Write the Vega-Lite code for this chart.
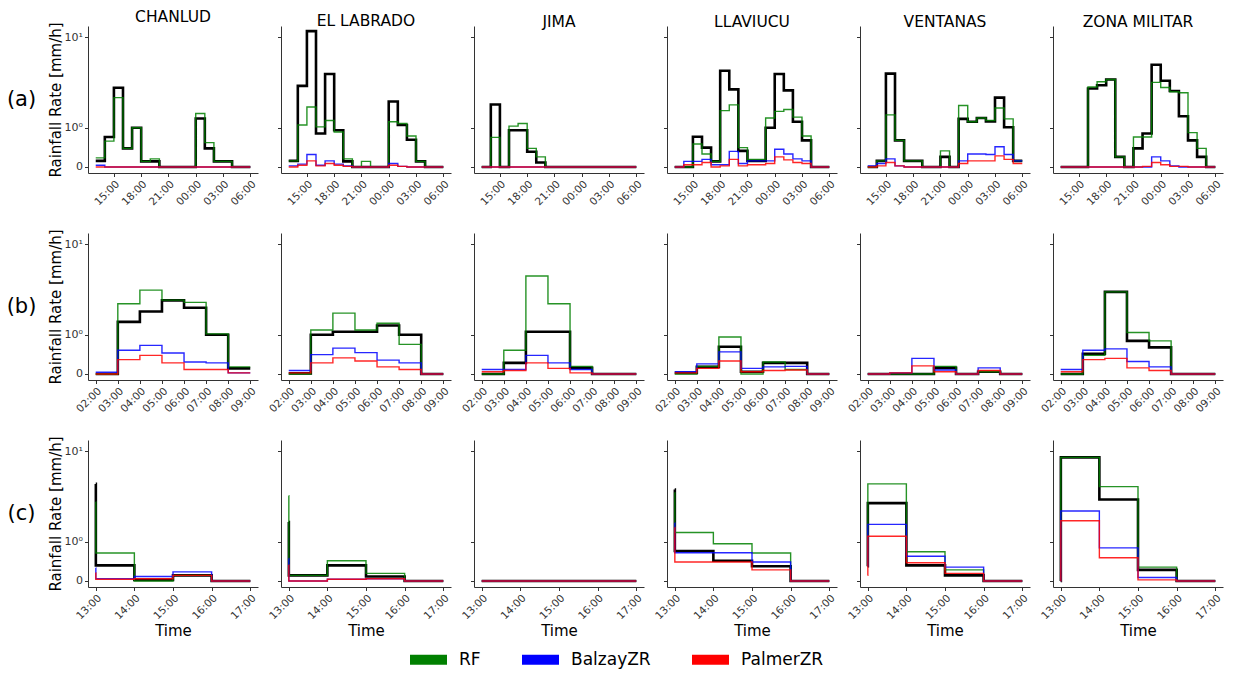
{
"$schema":"https://vega.github.io/schema/vega-lite/v6.json",
"padding":{"left":5,"top":10,"right":5,"bottom":2},
"datasets":{
"a":[
{"s":"CHANLUD","h":13,"obs":0.11,"RF":0.17,"BalzayZR":0.03,"PalmerZR":0},
{"s":"CHANLUD","h":14,"obs":0.69,"RF":0.57,"BalzayZR":0,"PalmerZR":0},
{"s":"CHANLUD","h":15,"obs":3.2,"RF":2.49,"BalzayZR":0,"PalmerZR":0},
{"s":"CHANLUD","h":16,"obs":0.38,"RF":0.38,"BalzayZR":0,"PalmerZR":0},
{"s":"CHANLUD","h":17,"obs":1,"RF":1,"BalzayZR":0,"PalmerZR":0},
{"s":"CHANLUD","h":18,"obs":0.1,"RF":0.1,"BalzayZR":0,"PalmerZR":0},
{"s":"CHANLUD","h":19,"obs":0.1,"RF":0.15,"BalzayZR":0,"PalmerZR":0},
{"s":"CHANLUD","h":20,"obs":0,"RF":0,"BalzayZR":0,"PalmerZR":0},
{"s":"CHANLUD","h":21,"obs":0,"RF":0,"BalzayZR":0,"PalmerZR":0},
{"s":"CHANLUD","h":22,"obs":0,"RF":0,"BalzayZR":0,"PalmerZR":0},
{"s":"CHANLUD","h":23,"obs":0,"RF":0,"BalzayZR":0,"PalmerZR":0},
{"s":"CHANLUD","h":24,"obs":1.37,"RF":1.6,"BalzayZR":0,"PalmerZR":0},
{"s":"CHANLUD","h":25,"obs":0.38,"RF":0.53,"BalzayZR":0,"PalmerZR":0},
{"s":"CHANLUD","h":26,"obs":0.1,"RF":0.1,"BalzayZR":0,"PalmerZR":0},
{"s":"CHANLUD","h":27,"obs":0.1,"RF":0.1,"BalzayZR":0,"PalmerZR":0},
{"s":"CHANLUD","h":28,"obs":0,"RF":0,"BalzayZR":0,"PalmerZR":0},
{"s":"CHANLUD","h":29,"obs":0,"RF":0,"BalzayZR":0,"PalmerZR":0},
{"s":"CHANLUD","h":30,"obs":0,"RF":0,"BalzayZR":0,"PalmerZR":0},
{"s":"EL LABRADO","h":13,"obs":0.11,"RF":0.11,"BalzayZR":0.02,"PalmerZR":0},
{"s":"EL LABRADO","h":14,"obs":3.36,"RF":1.1,"BalzayZR":0.05,"PalmerZR":0.03},
{"s":"EL LABRADO","h":15,"obs":11.4,"RF":1.93,"BalzayZR":0.24,"PalmerZR":0.11},
{"s":"EL LABRADO","h":16,"obs":0.8,"RF":1.03,"BalzayZR":0.03,"PalmerZR":0.02},
{"s":"EL LABRADO","h":17,"obs":4.45,"RF":1.28,"BalzayZR":0.11,"PalmerZR":0.06},
{"s":"EL LABRADO","h":18,"obs":0.91,"RF":0.85,"BalzayZR":0.05,"PalmerZR":0.03},
{"s":"EL LABRADO","h":19,"obs":0.1,"RF":0.15,"BalzayZR":0.02,"PalmerZR":0.01},
{"s":"EL LABRADO","h":20,"obs":0,"RF":0,"BalzayZR":0,"PalmerZR":0},
{"s":"EL LABRADO","h":21,"obs":0,"RF":0.1,"BalzayZR":0,"PalmerZR":0},
{"s":"EL LABRADO","h":22,"obs":0,"RF":0,"BalzayZR":0,"PalmerZR":0},
{"s":"EL LABRADO","h":23,"obs":0,"RF":0,"BalzayZR":0,"PalmerZR":0},
{"s":"EL LABRADO","h":24,"obs":2.25,"RF":1.23,"BalzayZR":0.06,"PalmerZR":0.03},
{"s":"EL LABRADO","h":25,"obs":1.1,"RF":1.16,"BalzayZR":0.01,"PalmerZR":0.01},
{"s":"EL LABRADO","h":26,"obs":0.61,"RF":0.72,"BalzayZR":0,"PalmerZR":0},
{"s":"EL LABRADO","h":27,"obs":0.1,"RF":0.1,"BalzayZR":0,"PalmerZR":0},
{"s":"EL LABRADO","h":28,"obs":0,"RF":0,"BalzayZR":0,"PalmerZR":0},
{"s":"EL LABRADO","h":29,"obs":0,"RF":0,"BalzayZR":0,"PalmerZR":0},
{"s":"EL LABRADO","h":30,"obs":0,"RF":0,"BalzayZR":0,"PalmerZR":0},
{"s":"JIMA","h":13,"obs":0,"RF":0,"BalzayZR":0,"PalmerZR":0},
{"s":"JIMA","h":14,"obs":2.07,"RF":0.68,"BalzayZR":0,"PalmerZR":0},
{"s":"JIMA","h":15,"obs":0,"RF":0,"BalzayZR":0,"PalmerZR":0},
{"s":"JIMA","h":16,"obs":0.91,"RF":1.06,"BalzayZR":0,"PalmerZR":0},
{"s":"JIMA","h":17,"obs":0.91,"RF":1.16,"BalzayZR":0,"PalmerZR":0},
{"s":"JIMA","h":18,"obs":0.3,"RF":0.38,"BalzayZR":0,"PalmerZR":0},
{"s":"JIMA","h":19,"obs":0.08,"RF":0.19,"BalzayZR":0,"PalmerZR":0},
{"s":"JIMA","h":20,"obs":0,"RF":0,"BalzayZR":0,"PalmerZR":0},
{"s":"JIMA","h":21,"obs":0,"RF":0,"BalzayZR":0,"PalmerZR":0},
{"s":"JIMA","h":22,"obs":0,"RF":0,"BalzayZR":0,"PalmerZR":0},
{"s":"JIMA","h":23,"obs":0,"RF":0,"BalzayZR":0,"PalmerZR":0},
{"s":"JIMA","h":24,"obs":0,"RF":0,"BalzayZR":0,"PalmerZR":0},
{"s":"JIMA","h":25,"obs":0,"RF":0,"BalzayZR":0,"PalmerZR":0},
{"s":"JIMA","h":26,"obs":0,"RF":0,"BalzayZR":0,"PalmerZR":0},
{"s":"JIMA","h":27,"obs":0,"RF":0,"BalzayZR":0,"PalmerZR":0},
{"s":"JIMA","h":28,"obs":0,"RF":0,"BalzayZR":0,"PalmerZR":0},
{"s":"JIMA","h":29,"obs":0,"RF":0,"BalzayZR":0,"PalmerZR":0},
{"s":"JIMA","h":30,"obs":0,"RF":0,"BalzayZR":0,"PalmerZR":0},
{"s":"LLAVIUCU","h":13,"obs":0,"RF":0,"BalzayZR":0,"PalmerZR":0},
{"s":"LLAVIUCU","h":14,"obs":0,"RF":0,"BalzayZR":0.1,"PalmerZR":0.04},
{"s":"LLAVIUCU","h":15,"obs":0.7,"RF":0.49,"BalzayZR":0.1,"PalmerZR":0.04},
{"s":"LLAVIUCU","h":16,"obs":0.4,"RF":0.25,"BalzayZR":0.14,"PalmerZR":0.08},
{"s":"LLAVIUCU","h":17,"obs":0.1,"RF":0.1,"BalzayZR":0.04,"PalmerZR":0},
{"s":"LLAVIUCU","h":18,"obs":4.8,"RF":1.74,"BalzayZR":0.04,"PalmerZR":0.02},
{"s":"LLAVIUCU","h":19,"obs":3.08,"RF":2.05,"BalzayZR":0.31,"PalmerZR":0.14},
{"s":"LLAVIUCU","h":20,"obs":0.32,"RF":0.4,"BalzayZR":0.06,"PalmerZR":0.02},
{"s":"LLAVIUCU","h":21,"obs":0.11,"RF":0.14,"BalzayZR":0.11,"PalmerZR":0.04},
{"s":"LLAVIUCU","h":22,"obs":0.11,"RF":0.14,"BalzayZR":0.11,"PalmerZR":0.04},
{"s":"LLAVIUCU","h":23,"obs":1,"RF":1.39,"BalzayZR":0.11,"PalmerZR":0.06},
{"s":"LLAVIUCU","h":24,"obs":4.45,"RF":1.7,"BalzayZR":0.36,"PalmerZR":0.19},
{"s":"LLAVIUCU","h":25,"obs":3,"RF":1.8,"BalzayZR":0.25,"PalmerZR":0.13},
{"s":"LLAVIUCU","h":26,"obs":1.23,"RF":1.43,"BalzayZR":0.15,"PalmerZR":0.08},
{"s":"LLAVIUCU","h":27,"obs":0.59,"RF":0.72,"BalzayZR":0.11,"PalmerZR":0.06},
{"s":"LLAVIUCU","h":28,"obs":0,"RF":0,"BalzayZR":0,"PalmerZR":0},
{"s":"LLAVIUCU","h":29,"obs":0,"RF":0,"BalzayZR":0,"PalmerZR":0},
{"s":"LLAVIUCU","h":30,"obs":0,"RF":0,"BalzayZR":0,"PalmerZR":0},
{"s":"VENTANAS","h":13,"obs":0,"RF":0,"BalzayZR":0.02,"PalmerZR":0},
{"s":"VENTANAS","h":14,"obs":0.11,"RF":0.11,"BalzayZR":0.06,"PalmerZR":0.02},
{"s":"VENTANAS","h":15,"obs":4.5,"RF":1.53,"BalzayZR":0.15,"PalmerZR":0.08},
{"s":"VENTANAS","h":16,"obs":0.59,"RF":0.59,"BalzayZR":0.02,"PalmerZR":0.02},
{"s":"VENTANAS","h":17,"obs":0.11,"RF":0.11,"BalzayZR":0,"PalmerZR":0},
{"s":"VENTANAS","h":18,"obs":0.11,"RF":0.11,"BalzayZR":0,"PalmerZR":0},
{"s":"VENTANAS","h":19,"obs":0,"RF":0,"BalzayZR":0,"PalmerZR":0},
{"s":"VENTANAS","h":20,"obs":0,"RF":0,"BalzayZR":0,"PalmerZR":0},
{"s":"VENTANAS","h":21,"obs":0.19,"RF":0.32,"BalzayZR":0,"PalmerZR":0},
{"s":"VENTANAS","h":22,"obs":0,"RF":0,"BalzayZR":0,"PalmerZR":0},
{"s":"VENTANAS","h":23,"obs":1.35,"RF":2.01,"BalzayZR":0.11,"PalmerZR":0.06},
{"s":"VENTANAS","h":24,"obs":1.23,"RF":1.23,"BalzayZR":0.25,"PalmerZR":0.11},
{"s":"VENTANAS","h":25,"obs":1.39,"RF":1.39,"BalzayZR":0.25,"PalmerZR":0.11},
{"s":"VENTANAS","h":26,"obs":1.24,"RF":1.28,"BalzayZR":0.24,"PalmerZR":0.11},
{"s":"VENTANAS","h":27,"obs":2.49,"RF":1.88,"BalzayZR":0.42,"PalmerZR":0.21},
{"s":"VENTANAS","h":28,"obs":1.02,"RF":1.35,"BalzayZR":0.24,"PalmerZR":0.14},
{"s":"VENTANAS","h":29,"obs":0.11,"RF":0.11,"BalzayZR":0.11,"PalmerZR":0.06},
{"s":"VENTANAS","h":30,"obs":0.11,"RF":0.11,"BalzayZR":0.11,"PalmerZR":0.06},
{"s":"ZONA MILITAR","h":13,"obs":0,"RF":0,"BalzayZR":0,"PalmerZR":0},
{"s":"ZONA MILITAR","h":14,"obs":0,"RF":0,"BalzayZR":0,"PalmerZR":0},
{"s":"ZONA MILITAR","h":15,"obs":0,"RF":0,"BalzayZR":0,"PalmerZR":0},
{"s":"ZONA MILITAR","h":16,"obs":3.14,"RF":3.27,"BalzayZR":0,"PalmerZR":0},
{"s":"ZONA MILITAR","h":17,"obs":3.41,"RF":3.71,"BalzayZR":0,"PalmerZR":0},
{"s":"ZONA MILITAR","h":18,"obs":3.91,"RF":3.91,"BalzayZR":0,"PalmerZR":0},
{"s":"ZONA MILITAR","h":19,"obs":0.19,"RF":0.19,"BalzayZR":0,"PalmerZR":0},
{"s":"ZONA MILITAR","h":20,"obs":0,"RF":0,"BalzayZR":0,"PalmerZR":0},
{"s":"ZONA MILITAR","h":21,"obs":0.38,"RF":0.69,"BalzayZR":0,"PalmerZR":0},
{"s":"ZONA MILITAR","h":22,"obs":0.8,"RF":0.69,"BalzayZR":0,"PalmerZR":0.01},
{"s":"ZONA MILITAR","h":23,"obs":5.5,"RF":3.65,"BalzayZR":0.19,"PalmerZR":0.08},
{"s":"ZONA MILITAR","h":24,"obs":3.8,"RF":3.22,"BalzayZR":0.11,"PalmerZR":0.04},
{"s":"ZONA MILITAR","h":25,"obs":2.95,"RF":2.9,"BalzayZR":0.02,"PalmerZR":0.01},
{"s":"ZONA MILITAR","h":26,"obs":1.47,"RF":2.83,"BalzayZR":0,"PalmerZR":0.01},
{"s":"ZONA MILITAR","h":27,"obs":0.59,"RF":0.83,"BalzayZR":0,"PalmerZR":0},
{"s":"ZONA MILITAR","h":28,"obs":0.19,"RF":0.38,"BalzayZR":0,"PalmerZR":0},
{"s":"ZONA MILITAR","h":29,"obs":0,"RF":0,"BalzayZR":0,"PalmerZR":0},
{"s":"ZONA MILITAR","h":30,"obs":0,"RF":0,"BalzayZR":0,"PalmerZR":0}
],
"b":[
{"s":"CHANLUD","h":2,"obs":0,"RF":0,"BalzayZR":0.03,"PalmerZR":0},
{"s":"CHANLUD","h":3,"obs":1.53,"RF":2.55,"BalzayZR":0.51,"PalmerZR":0.28},
{"s":"CHANLUD","h":4,"obs":2.07,"RF":3.59,"BalzayZR":0.65,"PalmerZR":0.38},
{"s":"CHANLUD","h":5,"obs":2.78,"RF":2.8,"BalzayZR":0.44,"PalmerZR":0.21},
{"s":"CHANLUD","h":6,"obs":2.29,"RF":2.64,"BalzayZR":0.23,"PalmerZR":0.08},
{"s":"CHANLUD","h":7,"obs":1,"RF":1.03,"BalzayZR":0.21,"PalmerZR":0.08},
{"s":"CHANLUD","h":8,"obs":0.1,"RF":0.13,"BalzayZR":0.02,"PalmerZR":0.02},
{"s":"CHANLUD","h":9,"obs":0.1,"RF":0.13,"BalzayZR":0.02,"PalmerZR":0.02},
{"s":"EL LABRADO","h":2,"obs":0.01,"RF":0,"BalzayZR":0.06,"PalmerZR":0.02},
{"s":"EL LABRADO","h":3,"obs":1,"RF":1.18,"BalzayZR":0.4,"PalmerZR":0.21},
{"s":"EL LABRADO","h":4,"obs":1.11,"RF":1.98,"BalzayZR":0.57,"PalmerZR":0.32},
{"s":"EL LABRADO","h":5,"obs":1.11,"RF":1.18,"BalzayZR":0.45,"PalmerZR":0.25},
{"s":"EL LABRADO","h":6,"obs":1.37,"RF":1.47,"BalzayZR":0.27,"PalmerZR":0.13},
{"s":"EL LABRADO","h":7,"obs":1,"RF":0.68,"BalzayZR":0.21,"PalmerZR":0.08},
{"s":"EL LABRADO","h":8,"obs":0,"RF":0,"BalzayZR":0,"PalmerZR":0},
{"s":"EL LABRADO","h":9,"obs":0,"RF":0,"BalzayZR":0,"PalmerZR":0},
{"s":"JIMA","h":2,"obs":0,"RF":0,"BalzayZR":0.08,"PalmerZR":0.04},
{"s":"JIMA","h":3,"obs":0.21,"RF":0.51,"BalzayZR":0.08,"PalmerZR":0.06},
{"s":"JIMA","h":4,"obs":1.11,"RF":5,"BalzayZR":0.38,"PalmerZR":0.21},
{"s":"JIMA","h":5,"obs":1.11,"RF":2.55,"BalzayZR":0.21,"PalmerZR":0.1},
{"s":"JIMA","h":6,"obs":0.11,"RF":0.14,"BalzayZR":0.08,"PalmerZR":0.02},
{"s":"JIMA","h":7,"obs":0,"RF":0,"BalzayZR":0,"PalmerZR":0},
{"s":"JIMA","h":8,"obs":0,"RF":0,"BalzayZR":0,"PalmerZR":0},
{"s":"JIMA","h":9,"obs":0,"RF":0,"BalzayZR":0,"PalmerZR":0},
{"s":"LLAVIUCU","h":2,"obs":0.02,"RF":0,"BalzayZR":0.04,"PalmerZR":0.02},
{"s":"LLAVIUCU","h":3,"obs":0.13,"RF":0.14,"BalzayZR":0.19,"PalmerZR":0.1},
{"s":"LLAVIUCU","h":4,"obs":0.61,"RF":0.92,"BalzayZR":0.47,"PalmerZR":0.25},
{"s":"LLAVIUCU","h":5,"obs":0.04,"RF":0,"BalzayZR":0.1,"PalmerZR":0.04},
{"s":"LLAVIUCU","h":6,"obs":0.21,"RF":0.23,"BalzayZR":0.13,"PalmerZR":0.06},
{"s":"LLAVIUCU","h":7,"obs":0.21,"RF":0.08,"BalzayZR":0.14,"PalmerZR":0.07},
{"s":"LLAVIUCU","h":8,"obs":0,"RF":0,"BalzayZR":0,"PalmerZR":0},
{"s":"LLAVIUCU","h":9,"obs":0,"RF":0,"BalzayZR":0,"PalmerZR":0},
{"s":"VENTANAS","h":2,"obs":0,"RF":0,"BalzayZR":0,"PalmerZR":0},
{"s":"VENTANAS","h":3,"obs":0,"RF":0,"BalzayZR":0.02,"PalmerZR":0.02},
{"s":"VENTANAS","h":4,"obs":0,"RF":0,"BalzayZR":0.31,"PalmerZR":0.15},
{"s":"VENTANAS","h":5,"obs":0.11,"RF":0.14,"BalzayZR":0.07,"PalmerZR":0.04},
{"s":"VENTANAS","h":6,"obs":0,"RF":0,"BalzayZR":0,"PalmerZR":0},
{"s":"VENTANAS","h":7,"obs":0.04,"RF":0.04,"BalzayZR":0.11,"PalmerZR":0.06},
{"s":"VENTANAS","h":8,"obs":0,"RF":0,"BalzayZR":0,"PalmerZR":0},
{"s":"VENTANAS","h":9,"obs":0,"RF":0,"BalzayZR":0,"PalmerZR":0},
{"s":"ZONA MILITAR","h":2,"obs":0,"RF":0,"BalzayZR":0.08,"PalmerZR":0.04},
{"s":"ZONA MILITAR","h":3,"obs":0.42,"RF":0.38,"BalzayZR":0.51,"PalmerZR":0.28},
{"s":"ZONA MILITAR","h":4,"obs":3.44,"RF":3.44,"BalzayZR":0.55,"PalmerZR":0.31},
{"s":"ZONA MILITAR","h":5,"obs":0.79,"RF":1.08,"BalzayZR":0.24,"PalmerZR":0.11},
{"s":"ZONA MILITAR","h":6,"obs":0.59,"RF":0.79,"BalzayZR":0.13,"PalmerZR":0.06},
{"s":"ZONA MILITAR","h":7,"obs":0,"RF":0,"BalzayZR":0,"PalmerZR":0},
{"s":"ZONA MILITAR","h":8,"obs":0,"RF":0,"BalzayZR":0,"PalmerZR":0},
{"s":"ZONA MILITAR","h":9,"obs":0,"RF":0,"BalzayZR":0,"PalmerZR":0}
],
"c":[
{"s":"CHANLUD","h":13,"obs":4.9,"RF":3.19,"BalzayZR":0.25,"PalmerZR":0.15},
{"s":"CHANLUD","h":13.003,"obs":0.31,"RF":0.63,"BalzayZR":0.04,"PalmerZR":0.03},
{"s":"CHANLUD","h":14,"obs":0.02,"RF":0,"BalzayZR":0.08,"PalmerZR":0.04},
{"s":"CHANLUD","h":15,"obs":0.1,"RF":0.1,"BalzayZR":0.17,"PalmerZR":0.1},
{"s":"CHANLUD","h":16,"obs":0,"RF":0,"BalzayZR":0,"PalmerZR":0},
{"s":"CHANLUD","h":17,"obs":0,"RF":0,"BalzayZR":0,"PalmerZR":0},
{"s":"EL LABRADO","h":13,"obs":1.87,"RF":3.72,"BalzayZR":0.48,"PalmerZR":0.32},
{"s":"EL LABRADO","h":13.003,"obs":0.1,"RF":0.1,"BalzayZR":0,"PalmerZR":0},
{"s":"EL LABRADO","h":14,"obs":0.31,"RF":0.42,"BalzayZR":0.03,"PalmerZR":0.03},
{"s":"EL LABRADO","h":15,"obs":0.08,"RF":0.14,"BalzayZR":0.04,"PalmerZR":0.04},
{"s":"EL LABRADO","h":16,"obs":0,"RF":0,"BalzayZR":0,"PalmerZR":0},
{"s":"EL LABRADO","h":17,"obs":0,"RF":0,"BalzayZR":0,"PalmerZR":0},
{"s":"JIMA","h":13,"obs":0,"RF":0,"BalzayZR":0,"PalmerZR":0},
{"s":"JIMA","h":13.003,"obs":0,"RF":0,"BalzayZR":0,"PalmerZR":0},
{"s":"JIMA","h":14,"obs":0,"RF":0,"BalzayZR":0,"PalmerZR":0},
{"s":"JIMA","h":15,"obs":0,"RF":0,"BalzayZR":0,"PalmerZR":0},
{"s":"JIMA","h":16,"obs":0,"RF":0,"BalzayZR":0,"PalmerZR":0},
{"s":"JIMA","h":17,"obs":0,"RF":0,"BalzayZR":0,"PalmerZR":0},
{"s":"LLAVIUCU","h":13,"obs":4.3,"RF":4,"BalzayZR":1.82,"PalmerZR":1.6},
{"s":"LLAVIUCU","h":13.003,"obs":0.69,"RF":1.37,"BalzayZR":0.64,"PalmerZR":0.39},
{"s":"LLAVIUCU","h":14,"obs":0.42,"RF":0.93,"BalzayZR":0.64,"PalmerZR":0.39},
{"s":"LLAVIUCU","h":15,"obs":0.29,"RF":0.63,"BalzayZR":0.39,"PalmerZR":0.21},
{"s":"LLAVIUCU","h":16,"obs":0,"RF":0,"BalzayZR":0,"PalmerZR":0},
{"s":"LLAVIUCU","h":17,"obs":0,"RF":0,"BalzayZR":0,"PalmerZR":0},
{"s":"VENTANAS","h":13,"obs":0.29,"RF":0.29,"BalzayZR":0.29,"PalmerZR":0.1},
{"s":"VENTANAS","h":13.003,"obs":3.1,"RF":4.9,"BalzayZR":1.75,"PalmerZR":1.21},
{"s":"VENTANAS","h":14,"obs":0.31,"RF":0.67,"BalzayZR":0.54,"PalmerZR":0.37},
{"s":"VENTANAS","h":15,"obs":0.1,"RF":0.21,"BalzayZR":0.27,"PalmerZR":0.14},
{"s":"VENTANAS","h":16,"obs":0,"RF":0,"BalzayZR":0,"PalmerZR":0},
{"s":"VENTANAS","h":17,"obs":0,"RF":0,"BalzayZR":0,"PalmerZR":0},
{"s":"ZONA MILITAR","h":13,"obs":0,"RF":0,"BalzayZR":0,"PalmerZR":0},
{"s":"ZONA MILITAR","h":13.003,"obs":8.8,"RF":8.8,"BalzayZR":2.53,"PalmerZR":1.94},
{"s":"ZONA MILITAR","h":14,"obs":3.39,"RF":4.6,"BalzayZR":0.79,"PalmerZR":0.5},
{"s":"ZONA MILITAR","h":15,"obs":0.21,"RF":0.27,"BalzayZR":0.06,"PalmerZR":0.02},
{"s":"ZONA MILITAR","h":16,"obs":0,"RF":0,"BalzayZR":0,"PalmerZR":0},
{"s":"ZONA MILITAR","h":17,"obs":0,"RF":0,"BalzayZR":0,"PalmerZR":0}
]
},
"vconcat":[
{"spacing":10,"hconcat":[
{"width":33,"height":147,"data":{"values":[{"l":"(a)"}]},"mark":{"type":"text","fontSize":21,"color":"black","font":"DejaVu Sans"},"encoding":{"text":{"field":"l"}}},
{"spacing":23,"bounds":"flush",
"hconcat":[
{"width":170,"height":147,"title":"CHANLUD","data":{"name":"a"},"transform":[{"filter":"datum.s=='CHANLUD'"},{"fold":["obs","RF","BalzayZR","PalmerZR"],"as":["k","v"]}],
"encoding":{"x":{"field":"h","type":"quantitative","scale":{"domain":[12.15,30.85],"nice":false,"zero":false},"axis":{"values":[15,18,21,24,27,30],"labelExpr":"(datum.value%24<10?'0':'')+(datum.value%24)+':00'","title":null}},
"y":{"field":"v","type":"quantitative","scale":{"type":"symlog","constant":0.87,"domain":[-0.108,12.7],"nice":false},"axis":{"values":[0,1,10],"labelExpr":"datum.value==0?'0':datum.value==1?'10⁰':'10¹'","title":"Rainfall Rate [mm/h]"}}},
"layer":[{"transform":[{"filter":"datum.k=='obs'"}],"mark":{"type":"line","interpolate":"step-after","color":"black","strokeWidth":2.6},"encoding":{}},
{"transform":[{"filter":"datum.k!='obs'"}],"mark":{"type":"line","interpolate":"step-after","strokeWidth":1.4,"opacity":0.85},"encoding":{"color":{"field":"k","type":"nominal","title":null,"scale":{"domain":["RF","BalzayZR","PalmerZR"],"range":["#008000","#0000ff","#ff0000"]}}}}]},
{"width":170,"height":147,"title":"EL LABRADO","data":{"name":"a"},"transform":[{"filter":"datum.s=='EL LABRADO'"},{"fold":["obs","RF","BalzayZR","PalmerZR"],"as":["k","v"]}],
"encoding":{"x":{"field":"h","type":"quantitative","scale":{"domain":[12.15,30.85],"nice":false,"zero":false},"axis":{"values":[15,18,21,24,27,30],"labelExpr":"(datum.value%24<10?'0':'')+(datum.value%24)+':00'","title":null}},
"y":{"field":"v","type":"quantitative","scale":{"type":"symlog","constant":0.87,"domain":[-0.108,12.7],"nice":false},"axis":{"values":[0,1,10],"labels":false,"title":null}}},
"layer":[{"transform":[{"filter":"datum.k=='obs'"}],"mark":{"type":"line","interpolate":"step-after","color":"black","strokeWidth":2.6},"encoding":{}},
{"transform":[{"filter":"datum.k!='obs'"}],"mark":{"type":"line","interpolate":"step-after","strokeWidth":1.4,"opacity":0.85},"encoding":{"color":{"field":"k","type":"nominal","title":null,"scale":{"domain":["RF","BalzayZR","PalmerZR"],"range":["#008000","#0000ff","#ff0000"]}}}}]},
{"width":170,"height":147,"title":"JIMA","data":{"name":"a"},"transform":[{"filter":"datum.s=='JIMA'"},{"fold":["obs","RF","BalzayZR","PalmerZR"],"as":["k","v"]}],
"encoding":{"x":{"field":"h","type":"quantitative","scale":{"domain":[12.15,30.85],"nice":false,"zero":false},"axis":{"values":[15,18,21,24,27,30],"labelExpr":"(datum.value%24<10?'0':'')+(datum.value%24)+':00'","title":null}},
"y":{"field":"v","type":"quantitative","scale":{"type":"symlog","constant":0.87,"domain":[-0.108,12.7],"nice":false},"axis":{"values":[0,1,10],"labels":false,"title":null}}},
"layer":[{"transform":[{"filter":"datum.k=='obs'"}],"mark":{"type":"line","interpolate":"step-after","color":"black","strokeWidth":2.6},"encoding":{}},
{"transform":[{"filter":"datum.k!='obs'"}],"mark":{"type":"line","interpolate":"step-after","strokeWidth":1.4,"opacity":0.85},"encoding":{"color":{"field":"k","type":"nominal","title":null,"scale":{"domain":["RF","BalzayZR","PalmerZR"],"range":["#008000","#0000ff","#ff0000"]}}}}]},
{"width":170,"height":147,"title":"LLAVIUCU","data":{"name":"a"},"transform":[{"filter":"datum.s=='LLAVIUCU'"},{"fold":["obs","RF","BalzayZR","PalmerZR"],"as":["k","v"]}],
"encoding":{"x":{"field":"h","type":"quantitative","scale":{"domain":[12.15,30.85],"nice":false,"zero":false},"axis":{"values":[15,18,21,24,27,30],"labelExpr":"(datum.value%24<10?'0':'')+(datum.value%24)+':00'","title":null}},
"y":{"field":"v","type":"quantitative","scale":{"type":"symlog","constant":0.87,"domain":[-0.108,12.7],"nice":false},"axis":{"values":[0,1,10],"labels":false,"title":null}}},
"layer":[{"transform":[{"filter":"datum.k=='obs'"}],"mark":{"type":"line","interpolate":"step-after","color":"black","strokeWidth":2.6},"encoding":{}},
{"transform":[{"filter":"datum.k!='obs'"}],"mark":{"type":"line","interpolate":"step-after","strokeWidth":1.4,"opacity":0.85},"encoding":{"color":{"field":"k","type":"nominal","title":null,"scale":{"domain":["RF","BalzayZR","PalmerZR"],"range":["#008000","#0000ff","#ff0000"]}}}}]},
{"width":170,"height":147,"title":"VENTANAS","data":{"name":"a"},"transform":[{"filter":"datum.s=='VENTANAS'"},{"fold":["obs","RF","BalzayZR","PalmerZR"],"as":["k","v"]}],
"encoding":{"x":{"field":"h","type":"quantitative","scale":{"domain":[12.15,30.85],"nice":false,"zero":false},"axis":{"values":[15,18,21,24,27,30],"labelExpr":"(datum.value%24<10?'0':'')+(datum.value%24)+':00'","title":null}},
"y":{"field":"v","type":"quantitative","scale":{"type":"symlog","constant":0.87,"domain":[-0.108,12.7],"nice":false},"axis":{"values":[0,1,10],"labels":false,"title":null}}},
"layer":[{"transform":[{"filter":"datum.k=='obs'"}],"mark":{"type":"line","interpolate":"step-after","color":"black","strokeWidth":2.6},"encoding":{}},
{"transform":[{"filter":"datum.k!='obs'"}],"mark":{"type":"line","interpolate":"step-after","strokeWidth":1.4,"opacity":0.85},"encoding":{"color":{"field":"k","type":"nominal","title":null,"scale":{"domain":["RF","BalzayZR","PalmerZR"],"range":["#008000","#0000ff","#ff0000"]}}}}]},
{"width":170,"height":147,"title":"ZONA MILITAR","data":{"name":"a"},"transform":[{"filter":"datum.s=='ZONA MILITAR'"},{"fold":["obs","RF","BalzayZR","PalmerZR"],"as":["k","v"]}],
"encoding":{"x":{"field":"h","type":"quantitative","scale":{"domain":[12.15,30.85],"nice":false,"zero":false},"axis":{"values":[15,18,21,24,27,30],"labelExpr":"(datum.value%24<10?'0':'')+(datum.value%24)+':00'","title":null}},
"y":{"field":"v","type":"quantitative","scale":{"type":"symlog","constant":0.87,"domain":[-0.108,12.7],"nice":false},"axis":{"values":[0,1,10],"labels":false,"title":null}}},
"layer":[{"transform":[{"filter":"datum.k=='obs'"}],"mark":{"type":"line","interpolate":"step-after","color":"black","strokeWidth":2.6},"encoding":{}},
{"transform":[{"filter":"datum.k!='obs'"}],"mark":{"type":"line","interpolate":"step-after","strokeWidth":1.4,"opacity":0.85},"encoding":{"color":{"field":"k","type":"nominal","title":null,"scale":{"domain":["RF","BalzayZR","PalmerZR"],"range":["#008000","#0000ff","#ff0000"]}}}}]}
]}]},
{"spacing":10,"hconcat":[
{"width":33,"height":147,"data":{"values":[{"l":"(b)"}]},"mark":{"type":"text","fontSize":21,"color":"black","font":"DejaVu Sans"},"encoding":{"text":{"field":"l"}}},
{"spacing":23,"bounds":"flush",
"hconcat":[
{"width":170,"height":147,"data":{"name":"b"},"transform":[{"filter":"datum.s=='CHANLUD'"},{"fold":["obs","RF","BalzayZR","PalmerZR"],"as":["k","v"]}],
"encoding":{"x":{"field":"h","type":"quantitative","scale":{"domain":[1.65,9.35],"nice":false,"zero":false},"axis":{"values":[2,3,4,5,6,7,8,9],"labelExpr":"'0'+datum.value+':00'","title":null}},
"y":{"field":"v","type":"quantitative","scale":{"type":"symlog","constant":0.87,"domain":[-0.108,12.7],"nice":false},"axis":{"values":[0,1,10],"labelExpr":"datum.value==0?'0':datum.value==1?'10⁰':'10¹'","title":"Rainfall Rate [mm/h]"}}},
"layer":[{"transform":[{"filter":"datum.k=='obs'"}],"mark":{"type":"line","interpolate":"step-after","color":"black","strokeWidth":2.6},"encoding":{}},
{"transform":[{"filter":"datum.k!='obs'"}],"mark":{"type":"line","interpolate":"step-after","strokeWidth":1.4,"opacity":0.85},"encoding":{"color":{"field":"k","type":"nominal","title":null,"scale":{"domain":["RF","BalzayZR","PalmerZR"],"range":["#008000","#0000ff","#ff0000"]}}}}]},
{"width":170,"height":147,"data":{"name":"b"},"transform":[{"filter":"datum.s=='EL LABRADO'"},{"fold":["obs","RF","BalzayZR","PalmerZR"],"as":["k","v"]}],
"encoding":{"x":{"field":"h","type":"quantitative","scale":{"domain":[1.65,9.35],"nice":false,"zero":false},"axis":{"values":[2,3,4,5,6,7,8,9],"labelExpr":"'0'+datum.value+':00'","title":null}},
"y":{"field":"v","type":"quantitative","scale":{"type":"symlog","constant":0.87,"domain":[-0.108,12.7],"nice":false},"axis":{"values":[0,1,10],"labels":false,"title":null}}},
"layer":[{"transform":[{"filter":"datum.k=='obs'"}],"mark":{"type":"line","interpolate":"step-after","color":"black","strokeWidth":2.6},"encoding":{}},
{"transform":[{"filter":"datum.k!='obs'"}],"mark":{"type":"line","interpolate":"step-after","strokeWidth":1.4,"opacity":0.85},"encoding":{"color":{"field":"k","type":"nominal","title":null,"scale":{"domain":["RF","BalzayZR","PalmerZR"],"range":["#008000","#0000ff","#ff0000"]}}}}]},
{"width":170,"height":147,"data":{"name":"b"},"transform":[{"filter":"datum.s=='JIMA'"},{"fold":["obs","RF","BalzayZR","PalmerZR"],"as":["k","v"]}],
"encoding":{"x":{"field":"h","type":"quantitative","scale":{"domain":[1.65,9.35],"nice":false,"zero":false},"axis":{"values":[2,3,4,5,6,7,8,9],"labelExpr":"'0'+datum.value+':00'","title":null}},
"y":{"field":"v","type":"quantitative","scale":{"type":"symlog","constant":0.87,"domain":[-0.108,12.7],"nice":false},"axis":{"values":[0,1,10],"labels":false,"title":null}}},
"layer":[{"transform":[{"filter":"datum.k=='obs'"}],"mark":{"type":"line","interpolate":"step-after","color":"black","strokeWidth":2.6},"encoding":{}},
{"transform":[{"filter":"datum.k!='obs'"}],"mark":{"type":"line","interpolate":"step-after","strokeWidth":1.4,"opacity":0.85},"encoding":{"color":{"field":"k","type":"nominal","title":null,"scale":{"domain":["RF","BalzayZR","PalmerZR"],"range":["#008000","#0000ff","#ff0000"]}}}}]},
{"width":170,"height":147,"data":{"name":"b"},"transform":[{"filter":"datum.s=='LLAVIUCU'"},{"fold":["obs","RF","BalzayZR","PalmerZR"],"as":["k","v"]}],
"encoding":{"x":{"field":"h","type":"quantitative","scale":{"domain":[1.65,9.35],"nice":false,"zero":false},"axis":{"values":[2,3,4,5,6,7,8,9],"labelExpr":"'0'+datum.value+':00'","title":null}},
"y":{"field":"v","type":"quantitative","scale":{"type":"symlog","constant":0.87,"domain":[-0.108,12.7],"nice":false},"axis":{"values":[0,1,10],"labels":false,"title":null}}},
"layer":[{"transform":[{"filter":"datum.k=='obs'"}],"mark":{"type":"line","interpolate":"step-after","color":"black","strokeWidth":2.6},"encoding":{}},
{"transform":[{"filter":"datum.k!='obs'"}],"mark":{"type":"line","interpolate":"step-after","strokeWidth":1.4,"opacity":0.85},"encoding":{"color":{"field":"k","type":"nominal","title":null,"scale":{"domain":["RF","BalzayZR","PalmerZR"],"range":["#008000","#0000ff","#ff0000"]}}}}]},
{"width":170,"height":147,"data":{"name":"b"},"transform":[{"filter":"datum.s=='VENTANAS'"},{"fold":["obs","RF","BalzayZR","PalmerZR"],"as":["k","v"]}],
"encoding":{"x":{"field":"h","type":"quantitative","scale":{"domain":[1.65,9.35],"nice":false,"zero":false},"axis":{"values":[2,3,4,5,6,7,8,9],"labelExpr":"'0'+datum.value+':00'","title":null}},
"y":{"field":"v","type":"quantitative","scale":{"type":"symlog","constant":0.87,"domain":[-0.108,12.7],"nice":false},"axis":{"values":[0,1,10],"labels":false,"title":null}}},
"layer":[{"transform":[{"filter":"datum.k=='obs'"}],"mark":{"type":"line","interpolate":"step-after","color":"black","strokeWidth":2.6},"encoding":{}},
{"transform":[{"filter":"datum.k!='obs'"}],"mark":{"type":"line","interpolate":"step-after","strokeWidth":1.4,"opacity":0.85},"encoding":{"color":{"field":"k","type":"nominal","title":null,"scale":{"domain":["RF","BalzayZR","PalmerZR"],"range":["#008000","#0000ff","#ff0000"]}}}}]},
{"width":170,"height":147,"data":{"name":"b"},"transform":[{"filter":"datum.s=='ZONA MILITAR'"},{"fold":["obs","RF","BalzayZR","PalmerZR"],"as":["k","v"]}],
"encoding":{"x":{"field":"h","type":"quantitative","scale":{"domain":[1.65,9.35],"nice":false,"zero":false},"axis":{"values":[2,3,4,5,6,7,8,9],"labelExpr":"'0'+datum.value+':00'","title":null}},
"y":{"field":"v","type":"quantitative","scale":{"type":"symlog","constant":0.87,"domain":[-0.108,12.7],"nice":false},"axis":{"values":[0,1,10],"labels":false,"title":null}}},
"layer":[{"transform":[{"filter":"datum.k=='obs'"}],"mark":{"type":"line","interpolate":"step-after","color":"black","strokeWidth":2.6},"encoding":{}},
{"transform":[{"filter":"datum.k!='obs'"}],"mark":{"type":"line","interpolate":"step-after","strokeWidth":1.4,"opacity":0.85},"encoding":{"color":{"field":"k","type":"nominal","title":null,"scale":{"domain":["RF","BalzayZR","PalmerZR"],"range":["#008000","#0000ff","#ff0000"]}}}}]}
]}]},
{"spacing":10,"hconcat":[
{"width":33,"height":147,"data":{"values":[{"l":"(c)"}]},"mark":{"type":"text","fontSize":21,"color":"black","font":"DejaVu Sans"},"encoding":{"text":{"field":"l"}}},
{"spacing":23,"bounds":"flush",
"hconcat":[
{"width":170,"height":147,"data":{"name":"c"},"transform":[{"filter":"datum.s=='CHANLUD'"},{"fold":["obs","RF","BalzayZR","PalmerZR"],"as":["k","v"]}],
"encoding":{"x":{"field":"h","type":"quantitative","scale":{"domain":[12.8,17.2],"nice":false,"zero":false},"axis":{"values":[13,14,15,16,17],"labelExpr":"datum.value+':00'","title":"Time"}},
"y":{"field":"v","type":"quantitative","scale":{"type":"symlog","constant":0.87,"domain":[-0.108,12.7],"nice":false},"axis":{"values":[0,1,10],"labelExpr":"datum.value==0?'0':datum.value==1?'10⁰':'10¹'","title":"Rainfall Rate [mm/h]"}}},
"layer":[{"transform":[{"filter":"datum.k=='obs'"}],"mark":{"type":"line","interpolate":"step-after","color":"black","strokeWidth":2.6},"encoding":{}},
{"transform":[{"filter":"datum.k!='obs'"}],"mark":{"type":"line","interpolate":"step-after","strokeWidth":1.4,"opacity":0.85},"encoding":{"color":{"field":"k","type":"nominal","title":null,"scale":{"domain":["RF","BalzayZR","PalmerZR"],"range":["#008000","#0000ff","#ff0000"]}}}}]},
{"width":170,"height":147,"data":{"name":"c"},"transform":[{"filter":"datum.s=='EL LABRADO'"},{"fold":["obs","RF","BalzayZR","PalmerZR"],"as":["k","v"]}],
"encoding":{"x":{"field":"h","type":"quantitative","scale":{"domain":[12.8,17.2],"nice":false,"zero":false},"axis":{"values":[13,14,15,16,17],"labelExpr":"datum.value+':00'","title":"Time"}},
"y":{"field":"v","type":"quantitative","scale":{"type":"symlog","constant":0.87,"domain":[-0.108,12.7],"nice":false},"axis":{"values":[0,1,10],"labels":false,"title":null}}},
"layer":[{"transform":[{"filter":"datum.k=='obs'"}],"mark":{"type":"line","interpolate":"step-after","color":"black","strokeWidth":2.6},"encoding":{}},
{"transform":[{"filter":"datum.k!='obs'"}],"mark":{"type":"line","interpolate":"step-after","strokeWidth":1.4,"opacity":0.85},"encoding":{"color":{"field":"k","type":"nominal","title":null,"scale":{"domain":["RF","BalzayZR","PalmerZR"],"range":["#008000","#0000ff","#ff0000"]}}}}]},
{"width":170,"height":147,"data":{"name":"c"},"transform":[{"filter":"datum.s=='JIMA'"},{"fold":["obs","RF","BalzayZR","PalmerZR"],"as":["k","v"]}],
"encoding":{"x":{"field":"h","type":"quantitative","scale":{"domain":[12.8,17.2],"nice":false,"zero":false},"axis":{"values":[13,14,15,16,17],"labelExpr":"datum.value+':00'","title":"Time"}},
"y":{"field":"v","type":"quantitative","scale":{"type":"symlog","constant":0.87,"domain":[-0.108,12.7],"nice":false},"axis":{"values":[0,1,10],"labels":false,"title":null}}},
"layer":[{"transform":[{"filter":"datum.k=='obs'"}],"mark":{"type":"line","interpolate":"step-after","color":"black","strokeWidth":2.6},"encoding":{}},
{"transform":[{"filter":"datum.k!='obs'"}],"mark":{"type":"line","interpolate":"step-after","strokeWidth":1.4,"opacity":0.85},"encoding":{"color":{"field":"k","type":"nominal","title":null,"scale":{"domain":["RF","BalzayZR","PalmerZR"],"range":["#008000","#0000ff","#ff0000"]}}}}]},
{"width":170,"height":147,"data":{"name":"c"},"transform":[{"filter":"datum.s=='LLAVIUCU'"},{"fold":["obs","RF","BalzayZR","PalmerZR"],"as":["k","v"]}],
"encoding":{"x":{"field":"h","type":"quantitative","scale":{"domain":[12.8,17.2],"nice":false,"zero":false},"axis":{"values":[13,14,15,16,17],"labelExpr":"datum.value+':00'","title":"Time"}},
"y":{"field":"v","type":"quantitative","scale":{"type":"symlog","constant":0.87,"domain":[-0.108,12.7],"nice":false},"axis":{"values":[0,1,10],"labels":false,"title":null}}},
"layer":[{"transform":[{"filter":"datum.k=='obs'"}],"mark":{"type":"line","interpolate":"step-after","color":"black","strokeWidth":2.6},"encoding":{}},
{"transform":[{"filter":"datum.k!='obs'"}],"mark":{"type":"line","interpolate":"step-after","strokeWidth":1.4,"opacity":0.85},"encoding":{"color":{"field":"k","type":"nominal","title":null,"scale":{"domain":["RF","BalzayZR","PalmerZR"],"range":["#008000","#0000ff","#ff0000"]}}}}]},
{"width":170,"height":147,"data":{"name":"c"},"transform":[{"filter":"datum.s=='VENTANAS'"},{"fold":["obs","RF","BalzayZR","PalmerZR"],"as":["k","v"]}],
"encoding":{"x":{"field":"h","type":"quantitative","scale":{"domain":[12.8,17.2],"nice":false,"zero":false},"axis":{"values":[13,14,15,16,17],"labelExpr":"datum.value+':00'","title":"Time"}},
"y":{"field":"v","type":"quantitative","scale":{"type":"symlog","constant":0.87,"domain":[-0.108,12.7],"nice":false},"axis":{"values":[0,1,10],"labels":false,"title":null}}},
"layer":[{"transform":[{"filter":"datum.k=='obs'"}],"mark":{"type":"line","interpolate":"step-after","color":"black","strokeWidth":2.6},"encoding":{}},
{"transform":[{"filter":"datum.k!='obs'"}],"mark":{"type":"line","interpolate":"step-after","strokeWidth":1.4,"opacity":0.85},"encoding":{"color":{"field":"k","type":"nominal","title":null,"scale":{"domain":["RF","BalzayZR","PalmerZR"],"range":["#008000","#0000ff","#ff0000"]}}}}]},
{"width":170,"height":147,"data":{"name":"c"},"transform":[{"filter":"datum.s=='ZONA MILITAR'"},{"fold":["obs","RF","BalzayZR","PalmerZR"],"as":["k","v"]}],
"encoding":{"x":{"field":"h","type":"quantitative","scale":{"domain":[12.8,17.2],"nice":false,"zero":false},"axis":{"values":[13,14,15,16,17],"labelExpr":"datum.value+':00'","title":"Time"}},
"y":{"field":"v","type":"quantitative","scale":{"type":"symlog","constant":0.87,"domain":[-0.108,12.7],"nice":false},"axis":{"values":[0,1,10],"labels":false,"title":null}}},
"layer":[{"transform":[{"filter":"datum.k=='obs'"}],"mark":{"type":"line","interpolate":"step-after","color":"black","strokeWidth":2.6},"encoding":{}},
{"transform":[{"filter":"datum.k!='obs'"}],"mark":{"type":"line","interpolate":"step-after","strokeWidth":1.4,"opacity":0.85},"encoding":{"color":{"field":"k","type":"nominal","title":null,"scale":{"domain":["RF","BalzayZR","PalmerZR"],"range":["#008000","#0000ff","#ff0000"]}}}}]}
]}]}
],
"spacing":20,
"config":{
"font":"DejaVu Sans",
"view":{"stroke":null},
"axis":{"grid":false,"domainColor":"#333333","tickColor":"#333333","labelColor":"#333333","tickSize":3.5,"labelFontSize":10.5,"titleFontSize":15,"titleFontWeight":"normal","titleColor":"black","labelFont":"DejaVu Sans","titleFont":"DejaVu Sans"},
"axisX":{"labelAngle":-45,"labelOverlap":false,"labelFlush":false,"titlePadding":2},
"axisY":{"labelFontSize":11,"titlePadding":1},
"title":{"fontSize":15.5,"fontWeight":"normal","color":"black","offset":-4,"anchor":"middle","font":"DejaVu Sans"},
"legend":{"orient":"bottom","direction":"horizontal","symbolType":"stroke","symbolSize":1369,"symbolStrokeWidth":10,"symbolOpacity":1,"labelFontSize":17,"labelColor":"black","labelOffset":7,"columnPadding":21,"offset":-3,"layout":{"bottom":{"anchor":"middle"}}}
}
}
